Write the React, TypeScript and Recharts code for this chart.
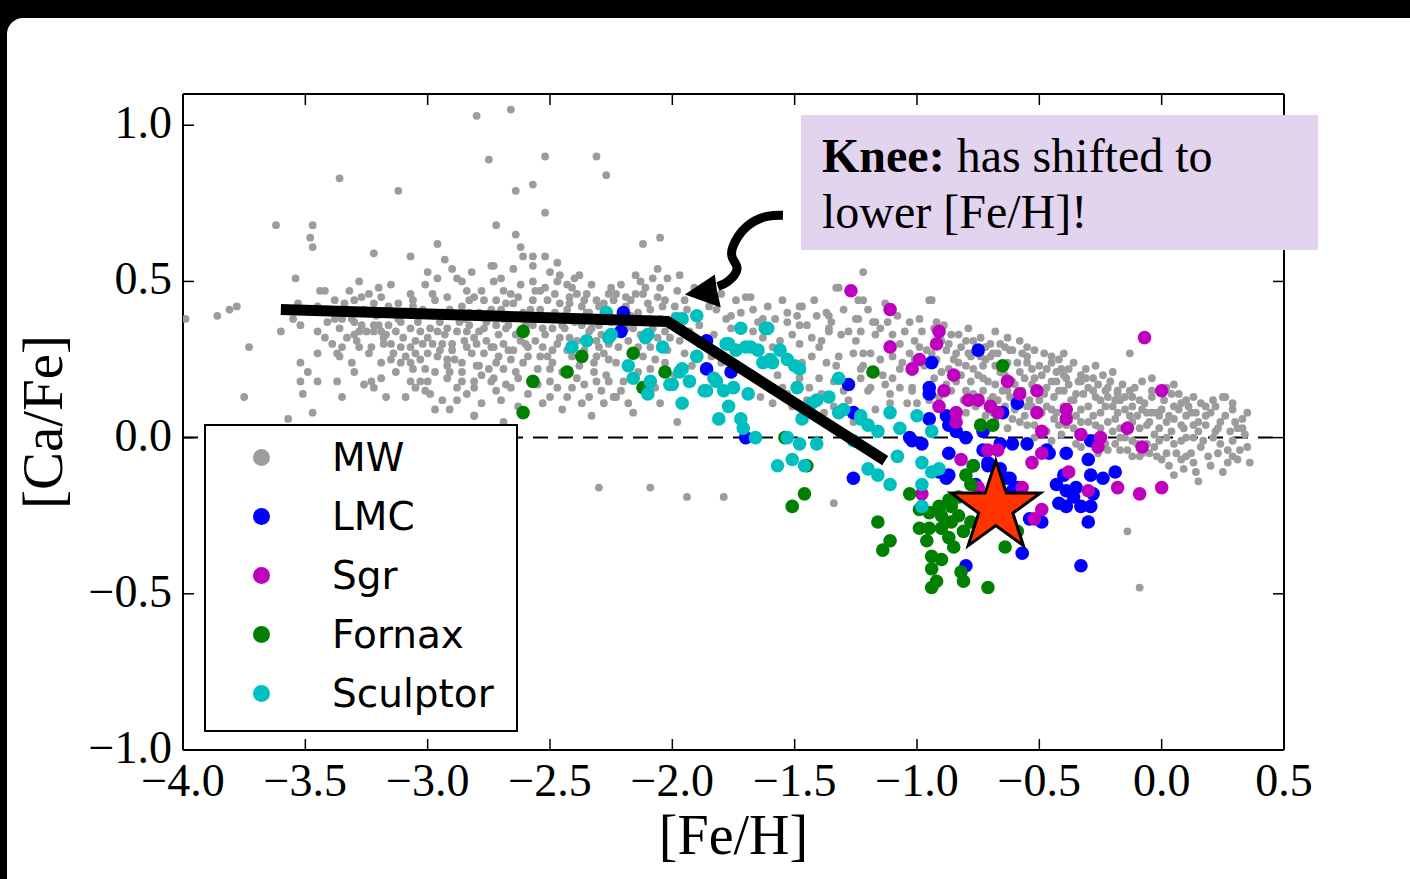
import React from 'react'
import { Legend, ReferenceLine, Scatter, ScatterChart, XAxis, YAxis } from 'recharts'

// ---------------------------------------------------------------------------
// Data ([Fe/H], [Ca/Fe])
// ---------------------------------------------------------------------------

type Pt = [number, number]

const X_TICKS = [-4.0, -3.5, -3.0, -2.5, -2.0, -1.5, -1.0, -0.5, 0.0, 0.5]
const Y_TICKS = [-1.0, -0.5, 0.0, 0.5, 1.0]

// Milky Way: sparse outliers
const MW_OUTLIERS: Pt[] = [
  [-2.80, 1.03], [-2.66, 1.05], [-2.75, 0.89], [-2.52, 0.90], [-2.31, 0.90], [-2.27, 0.84], [-3.36, 0.83],
  [-3.12, 0.79], [-2.64, 0.79], [-2.57, 0.81], [-2.52, 0.72], [-3.62, 0.68], [-3.47, 0.68], [-3.48, 0.64],
  [-3.47, 0.61], [-2.72, 0.68], [-2.64, 0.65], [-2.96, 0.62], [-2.12, 0.62], [-2.05, 0.64], [-3.22, 0.59],
  [-3.07, 0.58], [-2.62, 0.61], [-2.74, 0.55], [-2.47, 0.56], [-2.52, 0.58], [-3.54, 0.51], [-3.28, 0.50],
  [-3.99, 0.38], [-3.86, 0.39], [-3.81, 0.41], [-3.78, 0.42], [-3.73, 0.29], [-3.75, 0.13], [-3.60, 0.34],
  [-2.30, -0.16], [-2.09, -0.16], [-1.94, -0.19], [-1.79, -0.19], [-1.34, -0.21], [-0.14, -0.30],
  [-0.09, -0.48], [0.15, -0.14], [0.05, -0.12],
]

// Milky Way: metal-poor plateau
const MW_PLATEAU: Pt[] = [
  [-2.93, 0.57], [-2.90, 0.54], [-3.00, 0.53], [-2.82, 0.53], [-3.15, 0.49], [-3.01, 0.49], [-2.96, 0.51],
  [-2.86, 0.50], [-2.88, 0.51], [-3.44, 0.47], [-3.42, 0.47], [-3.32, 0.47], [-3.20, 0.48], [-3.19, 0.45],
  [-3.27, 0.45], [-3.07, 0.46], [-3.06, 0.44], [-2.92, 0.45], [-2.84, 0.47], [-2.81, 0.45], [-3.38, 0.44],
  [-3.30, 0.44], [-3.22, 0.43], [-3.53, 0.43], [-3.14, 0.40], [-3.06, 0.42], [-2.98, 0.39], [-2.95, 0.37],
  [-2.90, 0.39], [-2.83, 0.40], [-3.55, 0.38], [-3.52, 0.36], [-3.38, 0.38], [-3.35, 0.38], [-3.30, 0.37],
  [-3.27, 0.36], [-3.22, 0.36], [-3.16, 0.36], [-3.11, 0.37], [-3.45, 0.34], [-3.42, 0.32], [-3.33, 0.32],
  [-3.30, 0.33], [-3.25, 0.34], [-3.22, 0.34], [-3.19, 0.34], [-3.17, 0.33], [-3.13, 0.34], [-3.07, 0.35],
  [-3.03, 0.34], [-3.00, 0.32], [-2.92, 0.35], [-2.88, 0.34], [-2.84, 0.34], [-2.81, 0.32], [-3.28, 0.29],
  [-3.23, 0.29], [-3.18, 0.30], [-3.15, 0.30], [-3.11, 0.29], [-3.07, 0.29], [-3.02, 0.30], [-2.98, 0.30],
  [-2.94, 0.30], [-2.90, 0.28], [-2.84, 0.29], [-3.45, 0.27], [-3.37, 0.27], [-3.35, 0.29], [-3.36, 0.26],
  [-3.31, 0.24], [-3.19, 0.24], [-3.15, 0.25], [-3.11, 0.24], [-3.07, 0.24], [-3.03, 0.25], [-3.00, 0.27],
  [-2.96, 0.26], [-2.92, 0.25], [-2.86, 0.24], [-3.52, 0.24], [-3.49, 0.21], [-3.06, 0.22], [-2.97, 0.21],
  [-2.92, 0.23], [-2.91, 0.21], [-2.86, 0.21], [-2.80, 0.23], [-3.19, 0.19], [-3.52, 0.18], [-3.45, 0.18],
  [-3.37, 0.18], [-3.23, 0.18], [-3.07, 0.18], [-3.03, 0.18], [-3.00, 0.18], [-2.92, 0.19], [-2.86, 0.18],
  [-3.05, 0.16], [-3.01, 0.15], [-3.22, 0.16], [-3.51, 0.14], [-3.35, 0.13], [-3.17, 0.13], [-2.88, 0.16],
  [-2.81, 0.16], [-2.88, 0.12], [-2.97, 0.09], [-2.91, 0.09], [-2.81, 0.07], [-3.47, 0.08], [-3.57, 0.06],
  [-3.45, 0.42], [-3.41, 0.37], [-3.39, 0.30], [-3.34, 0.43], [-3.31, 0.38], [-3.28, 0.34], [-3.24, 0.46],
  [-3.20, 0.36], [-3.16, 0.42], [-3.12, 0.38], [-3.09, 0.26], [-3.05, 0.31], [-3.02, 0.41], [-2.98, 0.46],
  [-2.96, 0.34], [-2.94, 0.40], [-2.90, 0.30], [-2.86, 0.42], [-2.85, 0.38], [-3.40, 0.41], [-3.36, 0.35],
  [-3.33, 0.40], [-3.29, 0.31], [-3.26, 0.41], [-3.24, 0.27], [-3.21, 0.39], [-3.18, 0.32], [-3.14, 0.27],
  [-3.12, 0.43], [-3.10, 0.32], [-3.08, 0.40], [-3.05, 0.27], [-3.04, 0.37], [-3.01, 0.22], [-2.99, 0.35],
  [-2.97, 0.44], [-2.95, 0.28], [-2.93, 0.33], [-2.91, 0.41], [-2.89, 0.25], [-2.87, 0.37], [-2.85, 0.31],
  [-3.30, 0.21], [-3.26, 0.17], [-3.13, 0.21], [-3.09, 0.13], [-2.99, 0.14], [-2.94, 0.12], [-2.84, 0.14],
]

// Milky Way: around the knee
const MW_KNEE: Pt[] = [
  [-2.61, 0.58], [-2.57, 0.58], [-2.73, 0.55], [-2.65, 0.54], [-2.57, 0.55], [-2.50, 0.53], [-2.46, 0.52],
  [-2.38, 0.52], [-2.40, 0.51], [-2.06, 0.54], [-2.08, 0.51], [-2.02, 0.51], [-1.98, 0.47], [-2.70, 0.51],
  [-2.73, 0.50], [-2.69, 0.47], [-2.66, 0.46], [-2.62, 0.49], [-2.57, 0.50], [-2.52, 0.48], [-2.47, 0.50],
  [-2.43, 0.49], [-2.39, 0.46], [-2.35, 0.46], [-2.31, 0.44], [-2.26, 0.46], [-2.21, 0.49], [-2.23, 0.46],
  [-2.15, 0.46], [-2.12, 0.46], [-2.06, 0.45], [-2.77, 0.44], [-2.72, 0.44], [-2.68, 0.43], [-2.57, 0.44],
  [-2.51, 0.44], [-2.46, 0.43], [-2.42, 0.43], [-2.37, 0.42], [-2.28, 0.43], [-2.19, 0.42], [-2.09, 0.41],
  [-2.04, 0.42], [-2.79, 0.40], [-2.75, 0.39], [-2.66, 0.39], [-2.61, 0.40], [-2.55, 0.39], [-2.49, 0.38],
  [-2.44, 0.39], [-2.38, 0.38], [-2.34, 0.40], [-2.31, 0.38], [-2.14, 0.40], [-2.83, 0.36], [-2.77, 0.35],
  [-2.72, 0.36], [-2.68, 0.35], [-2.62, 0.31], [-2.57, 0.36], [-2.53, 0.35], [-2.49, 0.35], [-2.46, 0.32],
  [-2.42, 0.32], [-2.34, 0.34], [-2.31, 0.31], [-2.19, 0.35], [-2.06, 0.32], [-2.01, 0.32], [-2.80, 0.30],
  [-2.73, 0.29], [-2.69, 0.30], [-2.65, 0.28], [-2.59, 0.29], [-2.53, 0.29], [-2.49, 0.28], [-2.43, 0.28],
  [-2.30, 0.29], [-2.26, 0.30], [-2.09, 0.29], [-2.02, 0.28], [-2.77, 0.27], [-2.71, 0.26], [-2.66, 0.25],
  [-2.61, 0.24], [-2.54, 0.26], [-2.49, 0.24], [-2.31, 0.26], [-2.26, 0.25], [-2.23, 0.24], [-2.12, 0.26],
  [-2.79, 0.23], [-2.75, 0.22], [-2.69, 0.22], [-2.64, 0.21], [-2.50, 0.22], [-2.38, 0.23], [-2.32, 0.21],
  [-2.27, 0.20], [-2.09, 0.22], [-2.81, 0.18], [-2.73, 0.19], [-2.68, 0.17], [-2.50, 0.18], [-2.39, 0.19],
  [-2.31, 0.18], [-2.20, 0.18], [-2.72, 0.15], [-2.50, 0.13], [-2.43, 0.13], [-2.37, 0.11], [-2.28, 0.11],
  [-2.23, 0.13], [-2.16, 0.08], [-2.33, 0.07], [-1.98, 0.05], [-2.81, 0.07], [-2.69, 0.05], [-2.24, 0.13],
  [-1.87, 0.45], [-1.82, 0.41], [-1.74, 0.44], [-1.70, 0.45], [-1.61, 0.42], [-1.76, 0.39], [-1.67, 0.41],
  [-1.63, 0.38], [-1.76, 0.35], [-1.67, 0.34], [-1.63, 0.32],
  [-2.83, 0.44], [-2.82, 0.27], [-2.79, 0.34], [-2.78, 0.20], [-2.76, 0.31], [-2.74, 0.41], [-2.72, 0.24],
  [-2.71, 0.33], [-2.69, 0.38], [-2.67, 0.28], [-2.65, 0.43], [-2.64, 0.33], [-2.63, 0.19], [-2.60, 0.36],
  [-2.59, 0.26], [-2.58, 0.41], [-2.56, 0.31], [-2.55, 0.22], [-2.54, 0.47], [-2.52, 0.33], [-2.51, 0.26],
  [-2.48, 0.40], [-2.47, 0.30], [-2.45, 0.21], [-2.44, 0.35], [-2.42, 0.45], [-2.41, 0.26], [-2.40, 0.37],
  [-2.39, 0.31], [-2.36, 0.28], [-2.35, 0.40], [-2.33, 0.35], [-2.32, 0.24], [-2.30, 0.42], [-2.29, 0.33],
  [-2.28, 0.27], [-2.25, 0.37], [-2.24, 0.44], [-2.22, 0.29], [-2.20, 0.38], [-2.18, 0.31], [-2.17, 0.44],
  [-2.16, 0.35], [-2.14, 0.29], [-2.13, 0.50], [-2.11, 0.37], [-2.10, 0.43], [-2.08, 0.35], [-2.07, 0.25],
  [-2.05, 0.38], [-2.03, 0.44], [-2.01, 0.36], [-1.99, 0.42], [-1.97, 0.31], [-1.95, 0.44], [-1.93, 0.34],
  [-1.91, 0.48], [-1.89, 0.36], [-1.85, 0.42], [-1.83, 0.33], [-1.80, 0.46], [-1.78, 0.38], [-1.72, 0.40],
  [-1.68, 0.45], [-1.65, 0.37], [-2.80, 0.39], [-2.78, 0.47], [-2.76, 0.37], [-2.74, 0.29], [-2.70, 0.41],
  [-2.67, 0.36], [-2.63, 0.45], [-2.60, 0.30], [-2.58, 0.38], [-2.56, 0.47], [-2.54, 0.41], [-2.50, 0.38],
  [-2.48, 0.46], [-2.45, 0.36], [-2.43, 0.41], [-2.41, 0.48], [-2.37, 0.36], [-2.36, 0.44], [-2.33, 0.49],
  [-2.30, 0.36], [-2.27, 0.41], [-2.25, 0.48], [-2.22, 0.34], [-2.19, 0.45], [-2.17, 0.39], [-2.15, 0.52],
  [-2.13, 0.33], [-2.11, 0.48], [-2.09, 0.38], [-2.05, 0.48], [-2.03, 0.34], [-1.99, 0.39], [-1.97, 0.52],
  [-1.94, 0.41], [-2.78, 0.11], [-2.74, 0.18], [-2.70, 0.12], [-2.66, 0.16], [-2.63, 0.10], [-2.59, 0.14],
  [-2.55, 0.17], [-2.53, 0.11], [-2.47, 0.16], [-2.45, 0.09], [-2.41, 0.16], [-2.36, 0.17], [-2.34, 0.13],
  [-2.29, 0.15], [-2.26, 0.18], [-2.21, 0.15], [-2.18, 0.11], [-2.14, 0.21], [-2.07, 0.16], [-2.05, 0.11],
  [-2.03, 0.24], [-1.99, 0.20], [-1.95, 0.27], [-1.92, 0.23], [-1.89, 0.30], [-1.84, 0.26], [-1.80, 0.24],
  [-1.72, 0.22], [-1.66, 0.19], [-1.64, 0.13],
]

// Milky Way: -1.6 .. -0.6
const MW_MID: Pt[] = [
  [-1.48, 0.42], [-1.53, 0.37], [-1.49, 0.39], [-1.48, 0.36], [-1.41, 0.39], [-1.37, 0.40], [-1.33, 0.48],
  [-1.25, 0.38], [-1.22, 0.44], [-1.18, 0.37], [-1.12, 0.37], [-1.03, 0.37], [-0.99, 0.38], [-0.95, 0.44],
  [-1.61, 0.34], [-1.56, 0.31], [-1.48, 0.30], [-1.43, 0.32], [-1.36, 0.34], [-1.32, 0.26], [-1.25, 0.31],
  [-1.26, 0.27], [-1.22, 0.27], [-1.22, 0.23], [-1.11, 0.30], [-1.10, 0.26], [-1.07, 0.22], [-1.03, 0.27],
  [-1.02, 0.21], [-1.11, 0.14], [-1.02, 0.15], [-1.59, 0.29], [-1.61, 0.24], [-1.53, 0.26], [-1.47, 0.24],
  [-1.43, 0.26], [-1.37, 0.24], [-1.48, 0.19], [-1.40, 0.19], [-1.34, 0.18], [-1.30, 0.15], [-1.23, 0.19],
  [-1.20, 0.15], [-1.11, 0.11], [-1.59, 0.11], [-1.53, 0.14], [-1.45, 0.12], [-1.34, 0.10], [-1.22, 0.53],
  [-1.32, 0.48], [-0.94, 0.44], [-1.24, 0.44], [-1.47, 0.42], [-1.36, 0.39], [-1.53, 0.40], [-1.24, 0.38],
  [-1.17, 0.37], [-1.31, 0.33], [-1.23, 0.34], [-1.17, 0.33], [-1.10, 0.33], [-1.36, 0.35], [-1.40, 0.29],
  [-1.19, 0.27], [-1.07, 0.30], [-1.01, 0.31], [-0.96, 0.28], [-1.01, 0.25], [-1.06, 0.24], [-1.14, 0.20],
  [-1.10, 0.19], [-1.33, 0.23], [-1.23, 0.22], [-1.19, 0.16], [-1.07, 0.16], [-1.02, 0.16], [-1.04, 0.11],
  [-1.00, 0.11], [-0.95, 0.12], [-0.90, 0.21], [-0.88, 0.28], [-0.82, 0.29], [-0.79, 0.27], [-0.74, 0.26],
  [-0.69, 0.27], [-0.63, 0.32], [-0.61, 0.28], [-0.84, 0.18], [-0.80, 0.15], [-0.71, 0.18], [-0.69, 0.13],
  [-0.63, 0.15], [-0.59, 0.12], [-0.87, 0.30], [-0.78, 0.26], [-0.70, 0.26], [-0.73, 0.23], [-0.66, 0.21],
  [-0.85, 0.25], [-0.75, 0.20], [-0.80, 0.23], [-0.70, 0.30], [-0.65, 0.15], [-0.70, 0.12], [-0.60, 0.17],
  [-0.62, 0.28], [-0.92, 0.37], [-0.86, 0.33], [-0.77, 0.31],
  [-1.58, 0.38], [-1.55, 0.44], [-1.51, 0.33], [-1.45, 0.36], [-1.42, 0.44], [-1.39, 0.31], [-1.35, 0.37],
  [-1.30, 0.41], [-1.28, 0.34], [-1.20, 0.41], [-1.15, 0.35], [-1.13, 0.43], [-1.08, 0.39], [-1.05, 0.34],
  [-1.57, 0.20], [-1.55, 0.16], [-1.51, 0.10], [-1.44, 0.16], [-1.39, 0.14], [-1.38, 0.08], [-1.28, 0.12],
  [-1.26, 0.05], [-1.17, 0.09], [-1.15, 0.25], [-1.13, 0.17],
  [-0.98, 0.34], [-0.93, 0.35], [-0.89, 0.36], [-0.83, 0.33], [-0.79, 0.35], [-0.74, 0.32], [-0.68, 0.34],
  [-0.66, 0.30], [-0.99, 0.29], [-0.94, 0.27], [-0.90, 0.31], [-0.84, 0.27], [-0.80, 0.31], [-0.76, 0.28],
  [-0.72, 0.29], [-0.67, 0.27], [-0.64, 0.29], [-0.97, 0.23], [-0.92, 0.25], [-0.87, 0.22], [-0.83, 0.24],
  [-0.77, 0.22], [-0.72, 0.25], [-0.68, 0.23], [-0.63, 0.24], [-0.93, 0.19], [-0.88, 0.17], [-0.82, 0.20],
  [-0.78, 0.18], [-0.73, 0.19], [-0.68, 0.17], [-0.64, 0.20], [-0.61, 0.18], [-0.91, 0.13], [-0.86, 0.15],
  [-0.81, 0.12], [-0.77, 0.14], [-0.73, 0.15], [-0.67, 0.12], [-0.62, 0.13], [-0.80, 0.08], [-0.76, 0.10],
  [-0.72, 0.07], [-0.60, 0.09], [-0.68, 0.05], [-0.63, 0.03],
]

// Milky Way: metal-rich wedge -0.6 .. +0.4
const MW_RICH: Pt[] = [
  [-0.48, 0.27], [-0.13, 0.27], [-0.59, 0.24], [-0.55, 0.24], [-0.53, 0.22], [-0.47, 0.22], [-0.43, 0.21],
  [-0.39, 0.19], [-0.33, 0.18], [-0.28, 0.15], [-0.22, 0.13], [-0.17, 0.12], [-0.12, 0.10], [-0.06, 0.08],
  [-0.01, 0.07], [0.05, 0.06], [0.10, 0.12], [0.20, 0.08], [0.26, 0.13], [0.31, 0.03], [0.35, -0.03],
  [0.36, -0.08], [0.27, -0.08], [0.24, 0.05], [0.21, 0.00], [0.16, -0.03], [0.12, -0.05], [0.08, -0.07],
  [0.02, -0.05], [-0.03, -0.03], [-0.09, -0.06], [-0.14, -0.04], [-0.19, -0.02], [-0.30, -0.01], [-0.39, 0.04],
  [-0.44, 0.06], [-0.49, 0.08], [-0.61, 0.06], [-0.55, 0.04], [-0.64, 0.10], [-0.69, 0.08], [-0.59, 0.13],
  [-0.51, 0.15], [-0.44, 0.13], [-0.36, 0.12], [-0.30, 0.10], [-0.25, 0.08], [-0.19, 0.06], [-0.14, 0.04],
  [-0.09, 0.03], [-0.03, 0.01], [0.02, 0.00], [0.08, -0.01], [0.13, 0.00], [0.13, 0.04], [0.08, 0.04],
  [0.02, 0.05], [-0.45, 0.18], [-0.40, 0.15], [-0.35, 0.14], [-0.30, 0.16], [-0.25, 0.12], [-0.20, 0.10],
  [-0.15, 0.09], [-0.10, 0.07], [-0.05, 0.05], [-0.40, 0.10], [-0.35, 0.07], [-0.30, 0.05], [-0.25, 0.03],
  [-0.20, 0.02], [-0.15, 0.00], [-0.10, -0.02], [-0.50, 0.12], [-0.45, 0.09], [-0.55, 0.10], [-0.42, 0.25],
  [-0.38, 0.22], [-0.33, 0.20], [-0.28, 0.19], [-0.22, 0.16], [-0.18, 0.15], [-0.12, 0.13], [-0.07, 0.11],
  [0.00, 0.09], [0.05, 0.10], [0.10, 0.07], [0.15, 0.05], [0.18, 0.10], [0.22, 0.02], [-0.40, 0.20],
  [-0.34, 0.18], [-0.15, 0.13], [-0.19, 0.12], [0.25, 0.13], [-0.02, 0.08], [0.12, 0.08], [0.32, -0.04],
  [0.13, -0.08], [0.10, -0.06], [-0.02, -0.06], [-0.08, -0.05], [-0.17, -0.04], [-0.52, 0.19], [-0.47, 0.16],
  [-0.58, 0.31], [-0.55, 0.29], [-0.57, 0.27], [-0.52, 0.28], [-0.45, 0.26], [-0.40, 0.27], [-0.58, 0.21],
  [-0.55, 0.26], [-0.50, 0.23], [-0.45, 0.24], [-0.41, 0.22], [-0.36, 0.24], [-0.31, 0.22], [-0.27, 0.23],
  [-0.24, 0.20], [-0.20, 0.21], [-0.56, 0.19], [-0.53, 0.17], [-0.49, 0.20], [-0.43, 0.18], [-0.38, 0.17],
  [-0.31, 0.19], [-0.26, 0.17], [-0.21, 0.18], [-0.16, 0.17], [-0.11, 0.16], [-0.08, 0.18], [-0.04, 0.15],
  [0.02, 0.16], [0.07, 0.14], [-0.57, 0.15], [-0.54, 0.12], [-0.48, 0.14], [-0.42, 0.15], [-0.37, 0.12],
  [-0.32, 0.14], [-0.27, 0.13], [-0.23, 0.15], [-0.18, 0.14], [-0.13, 0.15], [-0.09, 0.12], [-0.04, 0.13],
  [0.01, 0.12], [0.04, 0.14], [0.08, 0.11], [0.13, 0.13], [0.16, 0.11], [0.21, 0.12], [0.29, 0.11],
  [-0.56, 0.07], [-0.53, 0.10], [-0.47, 0.10], [-0.43, 0.08], [-0.38, 0.07], [-0.33, 0.09], [-0.28, 0.07],
  [-0.23, 0.10], [-0.18, 0.08], [-0.13, 0.07], [-0.08, 0.09], [-0.04, 0.08], [0.03, 0.07], [0.07, 0.09],
  [0.11, 0.10], [0.14, 0.08], [0.18, 0.07], [0.22, 0.10], [0.26, 0.07], [0.29, 0.09], [0.33, 0.06],
  [-0.58, 0.05], [-0.52, 0.04], [-0.47, 0.02], [-0.42, 0.04], [-0.36, 0.03], [-0.33, 0.05], [-0.27, 0.04],
  [-0.22, 0.05], [-0.17, 0.03], [-0.12, 0.05], [-0.06, 0.04], [-0.01, 0.03], [0.04, 0.02], [0.09, 0.03],
  [0.15, 0.02], [0.18, 0.04], [0.23, 0.03], [0.28, 0.02], [0.33, 0.03], [-0.52, 0.00], [-0.45, -0.01],
  [-0.41, 0.01], [-0.35, -0.02], [-0.27, 0.00], [-0.23, -0.02], [-0.17, 0.00], [-0.12, -0.01], [-0.06, -0.02],
  [-0.01, -0.01], [0.05, -0.02], [0.10, 0.00], [0.17, -0.01], [0.24, -0.02], [0.29, -0.01], [0.27, -0.04],
  [-0.05, -0.05], [0.00, -0.07], [0.06, -0.05], [0.19, -0.06], [0.23, -0.05], [0.29, -0.06], [-0.12, -0.06],
  [-0.22, -0.04], [0.03, -0.09], [0.09, -0.10], [0.14, -0.11], [0.20, -0.09], [0.25, -0.11], [0.31, -0.07],
  [0.34, 0.01], [0.30, 0.05], [0.35, 0.08], [-0.26, -0.05], [-0.33, -0.03], [-0.04, 0.19], [0.05, 0.17],
]

const LMC_POINTS: Pt[] = [
  [-2.20, 0.40], [-2.21, 0.34], [-1.86, 0.22], [-1.76, 0.21], [-1.86, 0.31], [-1.28, 0.17], [-1.26, 0.08],
  [-1.26, -0.13], [-1.70, 0.00], [-0.75, 0.28], [-0.94, 0.24], [-0.95, 0.16], [-0.95, 0.14], [-0.65, 0.08],
  [-0.59, 0.11], [-0.88, 0.07], [-0.87, 0.04], [-0.80, 0.00], [-0.73, 0.02], [-0.66, -0.02], [-0.61, -0.02],
  [-0.98, -0.02], [-1.03, 0.00], [-0.87, -0.05], [-0.73, -0.04], [-0.71, -0.08], [-0.77, -0.09], [-0.87, -0.12],
  [-0.66, -0.10], [-0.62, -0.13], [-0.59, -0.16], [-0.76, -0.15], [-0.80, -0.41], [-0.57, -0.37], [-0.49, -0.27],
  [-0.54, -0.26], [-0.47, -0.04], [-0.55, -0.02], [-0.46, -0.05], [-0.39, -0.05], [-0.29, -0.01], [-0.30, -0.07],
  [-0.40, -0.12], [-0.43, -0.15], [-0.39, -0.17], [-0.35, -0.16], [-0.29, -0.12], [-0.24, -0.13], [-0.19, -0.11],
  [-0.42, -0.21], [-0.39, -0.22], [-0.33, -0.22], [-0.29, -0.22], [-0.28, -0.18], [-0.36, -0.19], [-0.30, -0.27],
  [-0.33, -0.41], [-0.63, -0.13], [-0.61, -0.17], [-0.71, -0.09], [-0.91, -0.11], [-0.88, -0.13], [-1.02, -0.01],
  [-0.95, 0.06], [-0.84, 0.02],
]

const SGR_POINTS: Pt[] = [
  [-1.27, 0.47], [-1.11, 0.41], [-1.11, 0.29], [-0.91, 0.34], [-0.92, 0.30], [-0.99, 0.25], [-1.02, 0.22],
  [-0.89, 0.15], [-0.91, 0.10], [-0.85, 0.20], [-0.84, 0.08], [-0.84, 0.05], [-0.79, 0.12], [-0.75, 0.12],
  [-0.70, 0.10], [-0.67, 0.08], [-0.63, 0.18], [-0.58, 0.14], [-0.51, 0.15], [-0.51, 0.08], [-0.82, -0.07],
  [-0.71, -0.04], [-0.67, -0.04], [-0.57, -0.16], [-0.49, -0.23], [-0.52, -0.26], [-0.98, -0.18], [-0.49, 0.02],
  [-0.49, -0.05], [-0.53, -0.08], [-0.07, 0.32], [0.00, 0.15], [-0.39, 0.09], [-0.39, 0.06],
  [-0.33, 0.01], [-0.25, 0.00], [-0.14, 0.03], [-0.08, -0.03], [-0.26, -0.03], [-0.38, -0.11], [-0.30, -0.17],
  [-0.18, -0.16], [-0.09, -0.18], [0.00, -0.16], [-0.75, -0.16],
]

const FORNAX_POINTS: Pt[] = [
  [-2.61, 0.34], [-2.37, 0.26], [-2.16, 0.27], [-2.03, 0.21], [-2.43, 0.21], [-2.57, 0.18], [-2.61, 0.08],
  [-2.12, 0.16], [-1.18, 0.21], [-1.54, 0.00], [-1.45, -0.09], [-1.46, -0.18], [-1.51, -0.22], [-1.16, -0.27],
  [-1.11, -0.33], [-1.14, -0.36], [-1.03, -0.18], [-0.99, -0.23], [-0.95, -0.24], [-0.91, -0.22], [-0.87, -0.20],
  [-0.83, -0.19], [-0.99, -0.29], [-0.95, -0.29], [-0.90, -0.29], [-0.86, -0.27], [-0.81, -0.30], [-0.87, -0.32],
  [-0.96, -0.33], [-0.85, -0.35], [-0.80, -0.12], [-0.77, -0.09], [-0.78, -0.15], [-0.94, -0.38], [-0.90, -0.39],
  [-0.94, -0.42], [-0.92, -0.46], [-0.94, -0.48], [-0.82, -0.43], [-0.81, -0.46], [-0.71, -0.48], [-0.64, -0.35],
  [-0.59, -0.30], [-0.74, 0.04], [-0.69, 0.04], [-0.65, 0.23], [-0.83, -0.25], [-0.90, -0.25], [-0.86, -0.22],
  [-0.78, -0.27],
]

const SCULPTOR_POINTS: Pt[] = [
  [-2.27, 0.40], [-2.26, 0.32], [-2.35, 0.31], [-2.41, 0.29], [-2.10, 0.33], [-2.11, 0.32], [-2.04, 0.29],
  [-2.18, 0.23], [-2.16, 0.19], [-2.09, 0.18], [-2.10, 0.14], [-2.00, 0.17], [-1.98, 0.38], [-1.96, 0.38],
  [-1.90, 0.39], [-1.72, 0.35], [-1.62, 0.35], [-1.77, 0.30], [-1.74, 0.28], [-1.68, 0.29], [-1.65, 0.28],
  [-1.97, 0.21], [-1.93, 0.18], [-1.87, 0.15], [-1.82, 0.18], [-1.79, 0.15], [-1.75, 0.16], [-1.69, 0.14],
  [-1.63, 0.24], [-1.60, 0.25], [-1.96, 0.11], [-1.77, 0.10], [-1.81, 0.06], [-1.72, 0.06], [-1.71, 0.03],
  [-1.66, 0.00], [-2.01, 0.17], [-1.90, 0.26], [-2.25, 0.33], [-1.96, 0.22], [-1.86, 0.15], [-1.83, 0.19],
  [-1.78, 0.30], [-1.70, 0.29], [-1.61, 0.35], [-1.56, 0.28], [-1.53, 0.25], [-1.48, 0.22], [-1.49, 0.16],
  [-1.59, 0.24], [-1.53, 0.00], [-1.48, -0.02], [-1.41, -0.02], [-1.57, -0.09], [-1.51, -0.07], [-1.47, 0.06],
  [-1.43, 0.11], [-1.36, 0.13], [-1.32, 0.19], [-1.30, 0.09], [-1.23, 0.07], [-1.20, 0.04], [-1.16, 0.02],
  [-1.11, 0.08], [-1.07, 0.03], [-1.26, -0.01], [-1.20, -0.10], [-1.16, -0.12], [-1.11, -0.15], [-1.08, -0.06],
  [-1.00, 0.07], [-0.94, 0.02], [-0.98, -0.08], [-0.98, -0.15], [-0.94, -0.11], [-0.91, -0.10], [-0.98, -0.22],
  [-1.46, -0.09], [-1.50, 0.23], [-1.41, 0.12], [-1.32, 0.08], [-1.23, 0.06],
]

// annotation geometry (data coordinates)
const KNEE_LINE: Pt[] = [[-3.60, 0.41], [-2.02, 0.372], [-1.13, -0.074]]
const ARROW_PATH: Pt[] = [
  [-1.548, 0.712], [-1.613, 0.708], [-1.695, 0.676], [-1.752, 0.612], [-1.752, 0.571],
  [-1.736, 0.538], [-1.773, 0.5], [-1.814, 0.484],
]
const ARROW_TIP: Pt[] = [[-1.949, 0.458]]
const STAR_POINT: Pt[] = [[-0.678, -0.224]]

const MW_POINTS: Pt[] = [...MW_OUTLIERS, ...MW_PLATEAU, ...MW_KNEE, ...MW_MID, ...MW_RICH]

const SERIES = [
  { name: 'MW', color: '#9c9c9c', r: 3.9, points: MW_POINTS },
  { name: 'LMC', color: '#0000ff', r: 6.8, points: LMC_POINTS },
  { name: 'Sgr', color: '#bf00bf', r: 6.8, points: SGR_POINTS },
  { name: 'Fornax', color: '#008000', r: 6.8, points: FORNAX_POINTS },
  { name: 'Sculptor', color: '#00bfbf', r: 6.8, points: SCULPTOR_POINTS },
]

// ---------------------------------------------------------------------------
// Helpers
// ---------------------------------------------------------------------------

const SERIF = '"Liberation Serif", "Times New Roman", serif'
const SANS = '"DejaVu Sans", sans-serif'

const toRows = (pts: Pt[]) => pts.map(([x, y]) => ({ x, y }))
const fmt = (v: number) => v.toFixed(1).replace('-', '\u2212')

const dot = (r: number, color: string) => (p: any) => (
  <circle cx={p.cx} cy={p.cy} r={r} fill={color} />
)

const blank = () => <g />

function starShape(p: any) {
  const pts: string[] = []
  for (let i = 0; i < 10; i++) {
    const rad = i % 2 === 0 ? 47 : 18
    const a = -Math.PI / 2 + (i * Math.PI) / 5
    pts.push(`${p.cx + rad * Math.cos(a)},${p.cy + rad * Math.sin(a)}`)
  }
  return <polygon points={pts.join(' ')} fill="#ff3200" stroke="#000" strokeWidth={3} strokeLinejoin="miter" />
}

function arrowHead(p: any) {
  const { cx, cy } = p
  return (
    <polygon
      points={`${cx},${cy} ${cx + 30},${cy - 20} ${cx + 32},${cy - 5} ${cx + 36},${cy + 13}`}
      fill="#000"
    />
  )
}

function BottomTick({ x, y, payload }: any) {
  return (
    <g>
      <line x1={x} x2={x} y1={y} y2={y - 11} stroke="#000" strokeWidth={1.5} />
      <text x={x} y={y + 46} textAnchor="middle" fontFamily={SERIF} fontSize={46} fill="#000">
        {fmt(payload.value)}
      </text>
    </g>
  )
}

function TopTick({ x, y }: any) {
  return <line x1={x} x2={x} y1={y} y2={y + 11} stroke="#000" strokeWidth={1.5} />
}

function LeftTick({ x, y, payload }: any) {
  return (
    <g>
      <line x1={x} x2={x + 11} y1={y} y2={y} stroke="#000" strokeWidth={1.5} />
      <text x={x - 11} y={y + 13} textAnchor="end" fontFamily={SERIF} fontSize={46} fill="#000">
        {fmt(payload.value)}
      </text>
    </g>
  )
}

function RightTick({ x, y }: any) {
  return <line x1={x} x2={x - 11} y1={y} y2={y} stroke="#000" strokeWidth={1.5} />
}

function renderLegend(props: any) {
  const shown = new Set((props.payload ?? []).map((e: any) => e.value))
  const items = shown.size ? SERIES.filter((s) => shown.has(s.name)) : SERIES
  return (
    <div
      style={{
        position: 'relative',
        width: 314,
        height: 308,
        boxSizing: 'border-box',
        border: '2px solid #000',
        background: '#fff',
      }}
    >
      {items.map((it, i) => (
        <div
          key={it.name}
          style={{
            position: 'absolute',
            left: 0,
            top: 2 + i * 59,
            height: 59,
            display: 'flex',
            alignItems: 'center',
          }}
        >
          <span
            style={{
              marginLeft: 47,
              width: 17,
              height: 17,
              borderRadius: '50%',
              background: it.color,
              display: 'inline-block',
            }}
          />
          <span style={{ marginLeft: 62, fontFamily: SANS, fontSize: 39, color: '#000' }}>{it.name}</span>
        </div>
      ))}
    </div>
  )
}

// ---------------------------------------------------------------------------
// Chart
// ---------------------------------------------------------------------------

export default function App(): React.JSX.Element {
  return (
    <div
      style={{
        position: 'absolute',
        left: 0,
        top: 0,
        width: 1410,
        height: 879,
        background: '#000',
        overflow: 'hidden',
      }}
    >
      <div
        style={{
          position: 'absolute',
          left: 7,
          top: 18,
          right: 0,
          bottom: 0,
          background: '#fff',
          borderTopLeftRadius: 16,
        }}
      />
      <div style={{ position: 'absolute', left: 0, top: 0 }}>
        <ScatterChart width={1410} height={879} margin={{ top: 84, right: 116, bottom: 0, left: 0 }}>
          <XAxis
            dataKey="x"
            type="number"
            domain={[-4, 0.5]}
            ticks={X_TICKS}
            allowDataOverflow
            height={129}
            tickSize={0}
            tickMargin={0}
            tickLine={false}
            axisLine={{ stroke: '#000', strokeWidth: 2 }}
            tick={<BottomTick />}
            interval={0}
            label={{
              content: ({ viewBox }: any) => (
                <text
                  x={viewBox.x + viewBox.width / 2}
                  y={viewBox.y + 104}
                  textAnchor="middle"
                  fontFamily={SERIF}
                  fontSize={56}
                  fill="#000"
                >
                  [Fe/H]
                </text>
              ),
            }}
          />
          <XAxis
            xAxisId="top"
            orientation="top"
            dataKey="x"
            type="number"
            domain={[-4, 0.5]}
            ticks={X_TICKS}
            allowDataOverflow
            height={10}
            tickSize={0}
            tickMargin={0}
            tickLine={false}
            axisLine={{ stroke: '#000', strokeWidth: 2 }}
            tick={<TopTick />}
            interval={0}
          />
          <YAxis
            dataKey="y"
            type="number"
            domain={[-1, 1.1]}
            ticks={Y_TICKS}
            allowDataOverflow
            width={183}
            tickSize={0}
            tickMargin={0}
            tickLine={false}
            axisLine={{ stroke: '#000', strokeWidth: 2 }}
            tick={<LeftTick />}
            interval={0}
            label={{
              content: ({ viewBox }: any) => {
                const lx = viewBox.x + 62
                const ly = viewBox.y + viewBox.height / 2
                return (
                  <text
                    x={lx}
                    y={ly}
                    transform={`rotate(-90 ${lx} ${ly})`}
                    textAnchor="middle"
                    fontFamily={SERIF}
                    fontSize={57}
                    fill="#000"
                  >
                    [Ca/Fe]
                  </text>
                )
              },
            }}
          />
          <YAxis
            yAxisId="right"
            orientation="right"
            dataKey="y"
            type="number"
            domain={[-1, 1.1]}
            ticks={Y_TICKS}
            allowDataOverflow
            width={10}
            tickSize={0}
            tickMargin={0}
            tickLine={false}
            axisLine={{ stroke: '#000', strokeWidth: 2 }}
            tick={<RightTick />}
            interval={0}
          />

          {SERIES.map((s) => (
            <Scatter
              key={s.name}
              name={s.name}
              data={toRows(s.points)}
              fill={s.color}
              shape={dot(s.r, s.color)}
              isAnimationActive={false}
            />
          ))}

          <ReferenceLine y={0} stroke="#000" strokeWidth={2} strokeDasharray="15 10" />

          <Scatter
            name="knee"
            legendType="none"
            data={toRows(KNEE_LINE)}
            fill="#000"
            line={{ stroke: '#000', strokeWidth: 11, strokeLinejoin: 'miter' }}
            shape={blank}
            isAnimationActive={false}
          />
          <Scatter
            name="arrow"
            legendType="none"
            data={toRows(ARROW_PATH)}
            fill="#000"
            line={{ stroke: '#000', strokeWidth: 9 }}
            lineJointType="natural"
            shape={blank}
            isAnimationActive={false}
          />
          <Scatter
            name="arrowTip"
            legendType="none"
            data={toRows(ARROW_TIP)}
            fill="#000"
            shape={arrowHead}
            isAnimationActive={false}
          />
          <Scatter
            name="star"
            legendType="none"
            data={toRows(STAR_POINT)}
            fill="#ff3200"
            shape={starShape}
            isAnimationActive={false}
          />

          <Legend
            layout="vertical"
            align="center"
            verticalAlign="middle"
            wrapperStyle={{ left: 204, top: 424, width: 314, height: 308 }}
            content={renderLegend}
          />
        </ScatterChart>
      </div>
      <div
        style={{
          position: 'absolute',
          left: 801,
          top: 115,
          width: 517,
          height: 135,
          boxSizing: 'border-box',
          padding: '13px 0 0 21px',
          background: '#e2d3ef',
          fontFamily: SERIF,
          fontSize: 48,
          lineHeight: '56px',
          color: '#000',
        }}
      >
        <b>Knee:</b> has shifted to
        <br />
        lower [Fe/H]!
      </div>
    </div>
  )
}
